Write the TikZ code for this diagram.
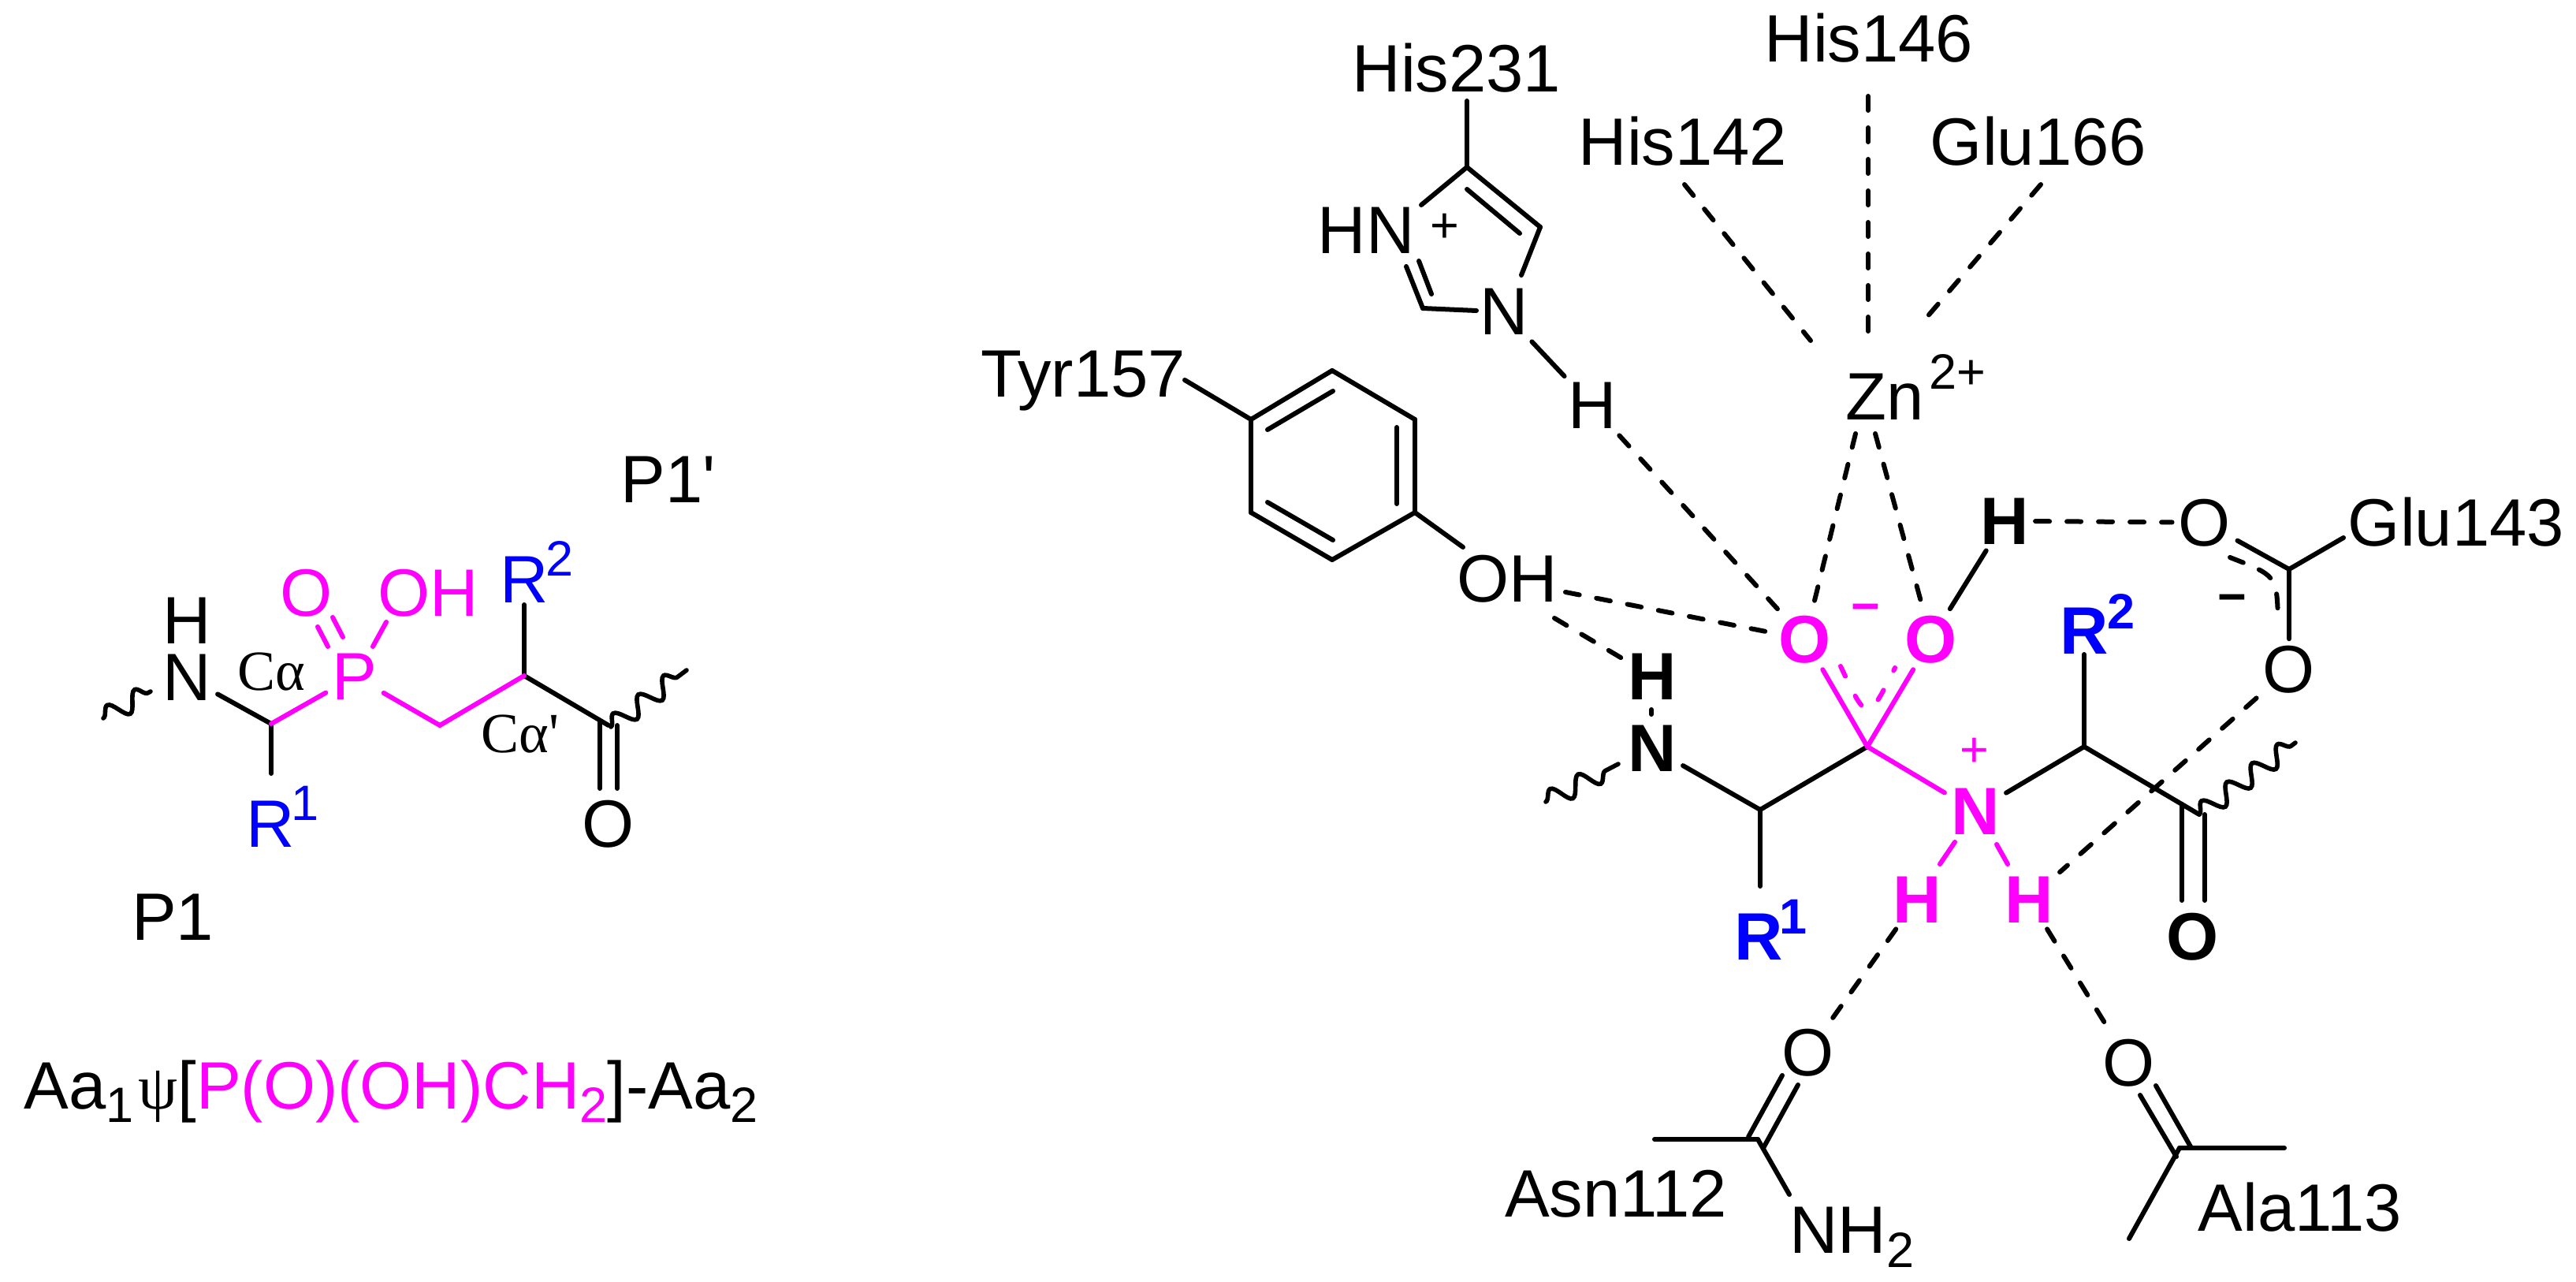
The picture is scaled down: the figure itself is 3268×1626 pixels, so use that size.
\documentclass[tikz,border=0pt]{standalone}
\usepackage{fontspec}
\usetikzlibrary{decorations.pathmorphing}
\setmainfont{Liberation Sans}[Ligatures=TeXOff]
\newfontfamily\grk{Liberation Serif}[Ligatures=TeXOff]
\newcommand\fa{\fontsize{42.5}{50}\selectfont}
\newcommand\fb{\fontsize{31.5}{36}\selectfont}
\newcommand\fc{\fontsize{36}{44}\selectfont\grk}
\definecolor{mag}{RGB}{255,0,255}
\definecolor{blu}{RGB}{0,0,255}
\tikzset{
 atom/.style={inner sep=4pt,anchor=base,font=\fa},
 txt/.style={inner sep=0pt,anchor=base,font=\fa},
 txtw/.style={inner sep=0pt,anchor=base west,font=\fa},
 sup/.style={inner sep=0pt,anchor=base,font=\fb},
 supw/.style={inner sep=0pt,anchor=base west,font=\fb},
 bond/.style={line width=3pt,line cap=round,line join=round},
 hb/.style={bond,dash pattern=on 9pt off 11pt},
 wav/.style={line width=2.8pt,line cap=round,decorate,decoration={snake,amplitude=6pt,segment length=20pt,pre length=0pt,post length=0pt}},
}
\begin{document}
\begin{tikzpicture}[x=0.5pt,y=-0.5pt]
\useasboundingbox (0,0) rectangle (3268,1626);
% ---- left molecule: labels
\node[atom] (N1) at (237,888) {N};
\node[txt] (H1) at (237,816) {H};
\node[atom,mag] (P1) at (450,887) {P};
\node[txt,mag] (Oa) at (389,781) {O};
\node[txt,mag] (OHa) at (543,781) {OH};
\node[txt,blu] (Ra) at (343,1074) {R};
\node[sup,blu] (Ras) at (387,1040) {1};
\node[txt,blu] (Rb) at (665,764) {R};
\node[sup,blu] (Rbs) at (710,730) {2};
\node[txt] (Ob) at (772,1074) {O};
\node[inner sep=0pt,anchor=base,font=\fc] (Ca1) at (344,875) {Cα};
\node[inner sep=0pt,anchor=base,font=\fc] (Ca2) at (660,954) {Cα'};
\node[txt] (P1p) at (848,637) {P1'};
\node[txt] (P1n) at (219,1192) {P1};
\node[txtw] (cap) at (30,1406) {Aa\raisebox{-8.5pt}{\fb 1}\hspace{3pt}{\grk\fontsize{40}{44}\selectfont ψ}[\textcolor{mag}{P(O)(OH)CH\raisebox{-8.5pt}{\fb 2}}]-Aa\raisebox{-8.5pt}{\fb 2}};
% ---- right: labels
\node[txt] (His231) at (1848,117) {His231};
\node[txt] (His142) at (2135,210) {His142};
\node[txt] (His146) at (2371,79) {His146};
\node[txt] (Glu166) at (2586,210) {Glu166};
\node[txt] (HN) at (1733,322) {HN};
\node[sup] (plusr) at (1833,308) {+};
\node[atom] (Nr) at (1908,425) {N};
\node[atom] (Hr) at (2020,544) {H};
\node[txt] (Tyr) at (1374,504) {Tyr157};
\node[txt] (OHt) at (1912,763) {OH};
\node[txtw] (Zn) at (2341,533) {Zn};
\node[supw] (Zns) at (2447,494) {2+};
\node[atom,mag,font=\fa\bfseries] (O1) at (2290,840) {O};
\node[atom,mag,font=\fa\bfseries] (O2) at (2450,840) {O};
\node[sup,mag,font=\fb\bfseries] (mnm) at (2367,790) {−};
\node[atom,font=\fa\bfseries] (Hb) at (2543,690) {H};
\node[atom] (Og) at (2797,692) {O};
\node[txt] (Glu143) at (3116,692) {Glu143};
\node[atom] (Ol) at (2904,878) {O};
\node[sup,font=\fb\bfseries] (mnk) at (2832,778) {−};
\node[atom,font=\fa\bfseries] (HN2) at (2096,887) {H};
\node[atom,font=\fa\bfseries] (N2) at (2096,978) {N};
\node[atom,mag,font=\fa\bfseries] (N3) at (2506,1058) {N};
\node[sup,mag] (plm) at (2505,972) {+};
\node[atom,mag,font=\fa\bfseries] (Ha) at (2432,1170) {H};
\node[atom,mag,font=\fa\bfseries] (Hc) at (2574,1170) {H};
\node[txt,blu,font=\fa\bfseries] (R1b) at (2231,1217) {R};
\node[sup,blu,font=\fb\bfseries] (R1bs) at (2275,1184) {1};
\node[txt,blu,font=\fa\bfseries] (R2b) at (2644,829) {R};
\node[sup,blu,font=\fb\bfseries] (R2bs) at (2691,797) {2};
\node[txt,font=\fa\bfseries] (Oc) at (2782,1217) {O};
\node[atom] (Oas) at (2294,1364) {O};
\node[atom] (Oal) at (2701,1377) {O};
\node[txt] (Asn) at (2050,1543) {Asn112};
\node[txtw] (NH2) at (2270,1589) {NH\raisebox{-9pt}{\fb 2}};
\node[txt] (Ala) at (2918,1561) {Ala113};
% ---- junctions and free ends
\foreach \n/\x/\y in {
 C1/344/918, r1e/344/981, CH/558/920, Ca/665/857, r2e/665/767, Cc/772/920,
 dl1/761/915, dl2/761/1000, dr1/783/920, dr2/783/1000,
 p1a/403/795, p1b/416/820, p2a/422/783, p2b/435/808, p3a/490/789, p3b/473/820,
 w1a/131/911, w1b/191/877, w2a/775/922, w2b/871/850,
 h231/1861/128, i1/1861/212, i2/1954/288, i3/1930/349, i4/1873/394, i5/1805/391, i6/1784/338, i7/1803/260,
 j1/1861/240, j2/1928/296, j3/1816/373, j4/1800/331,
 ty/1503/482, A/1587/532, B/1690/470, C/1795/532, D/1795/650, E/1690/710, F/1587/650,
 a1/1608/545, a2/1691/496, a3/1772/542, a4/1772/639, a5/1608/637, a6/1691/685, toh/1856/694,
 h42/2137/234, z1/2297/432, h46/2370/122, z2/2370/433, g66/2589/234, z3/2437/411,
 zna/2354/550, znb/2379/550, oht1/1986/751, oht2/1972/784,
 Cg/2904/722, glu/2973/682, cc1/2829/707, cc2/2888/730, cc3/2890/783,
 Cb/2233/1027, Cm/2369/947, Cd/2644/947, Ce/2790/1033, r1f/2233/1124, r2f/2644/830,
 e1/2768/1020, e2/2768/1142, e3/2797/1033, e4/2797/1142,
 m1/2335/845, m2/2369/917, m3/2404/847,
 w3a/1961/1017, w3b/2053/969, w4a/2790/1033, w4b/2912/942,
 n1a/2480/1068, n1b/2461/1096, n2a/2533/1071, n2b/2547/1096,
 hd1/2095/900, hd2/2095/906,
 as1/2261/1364, as2/2218/1442, as3/2281/1376, as4/2237/1456, as5/2099/1445, as6/2230/1445, as7/2270/1515,
 al1/2735/1377, al2/2780/1456, al3/2715/1389, al4/2761/1467, al5/2765/1456, al6/2898/1456, al7/2701/1571}
 \coordinate (\n) at (\x,\y);
% ---- black bonds
\foreach \a/\b in {N1/C1, C1/r1e, Ca/r2e, Ca/Cc, dl1/dl2, dr1/dr2,
 h231/i1, i1/i2, i2/i3, i4/i5, i5/i6, i7/i1, j1/j2, j3/j4, Nr/Hr,
 ty/A, A/B, B/C, C/D, D/E, E/F, F/A, a1/a2, a3/a4, a5/a6, D/toh,
 Og/Cg, Cg/glu, Cg/Ol, N2/Cb, Cb/Cm, Cb/r1f, N3/Cd, Cd/r2f, Cd/Ce, e1/e2, e3/e4, O2/Hb, hd1/hd2,
 as1/as2, as3/as4, as5/as6, as6/as7, al1/al2, al3/al4, al5/al6, al5/al7}
 \draw[bond] (\a) -- (\b);
% ---- magenta bonds
\foreach \a/\b in {C1/P1, P1/CH, CH/Ca, p1a/p1b, p2a/p2b, p3a/p3b, Cm/O1, Cm/O2, Cm/N3, n1a/n1b, n2a/n2b}
 \draw[bond,mag] (\a) -- (\b);
% ---- hydrogen bonds / coordination
\foreach \a/\b in {h42/z1, h46/z2, g66/z3, Hr/O1, zna/O1, znb/O2, oht1/O1, oht2/HN2, Hb/Og, Ol/Hc, Ha/Oas, Hc/Oal}
 \draw[hb] (\a) -- (\b);
\draw[bond,dash pattern=on 9pt off 11pt] (cc1) .. controls (cc2) .. (cc3);
\draw[bond,mag,dash pattern=on 7pt off 14pt] (m1) .. controls (m2) .. (m3);
% ---- wavy
\foreach \a/\b in {w1a/w1b, w2a/w2b, w3a/w3b, w4a/w4b}
 \draw[wav] (\a) -- (\b);
\end{tikzpicture}
\end{document}
